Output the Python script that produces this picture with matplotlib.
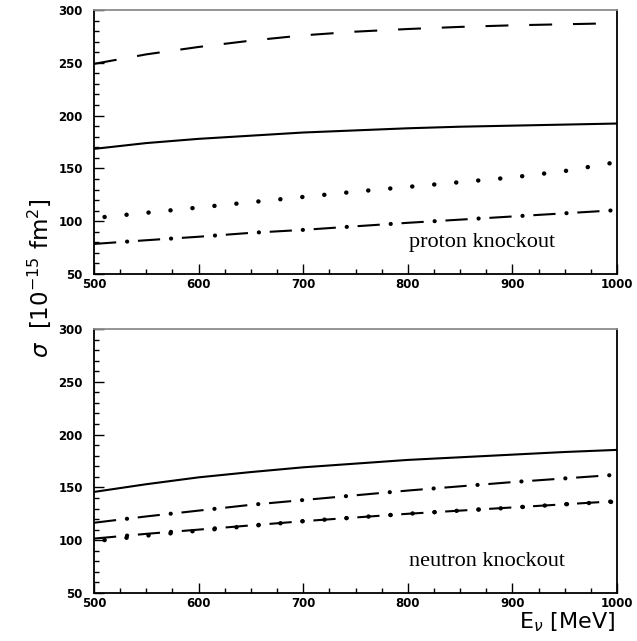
import matplotlib
matplotlib.use('Agg')
import matplotlib.pyplot as plt
from matplotlib.ticker import MultipleLocator

plt.rcParams['lines.scale_dashes'] = False

energy = [500, 550, 600, 650, 700, 750, 800, 850, 900, 950, 1000]

# proton knockout
p_dashed = [249, 258, 265, 271, 276, 279.5, 282, 284, 285.5, 286.5, 287.5]
p_solid = [168.5, 174, 178, 181, 184, 186, 188, 189.5, 190.5, 191.5, 192.5]
p_dotted = [103, 108, 113, 118, 123, 128, 132.5, 137, 141.5, 147.5, 156]
p_dashdot = [78.5, 82, 85.3, 89, 91.8, 95.2, 98.5, 101.5, 104.5, 107.5, 110.5]

# neutron knockout
n_solid = [145.7, 153, 159.5, 164.5, 169, 172.5, 176, 178.5, 181, 183.5, 185.5]
n_dashdot_hi = [116.5, 122.5, 128, 133.5, 138, 142.5, 147, 151, 155, 158.5, 162]
n_dashdot_lo = [101.5, 106, 110, 114, 118, 121.5, 125, 128, 131, 134, 137]
n_dotted = [99, 104.3, 109, 113.5, 118, 121.5, 125, 128, 130.8, 134, 136.5]

DASHED = (0, (16.5, 15))
DASH_PART = (0, (16, 15.7))        # long dashes of the dash-dot curves
DOT_PART = (7.85, (0.1, 31.6))      # the fat dots in their gaps
DOTTED = (8.3, (0.1, 15.8))

fig = plt.figure(figsize=(6.37, 6.41), dpi=100)
ax1 = fig.add_axes([0.1476, 0.5725, 0.821, 0.4119])
ax2 = fig.add_axes([0.1476, 0.0749, 0.821, 0.4119])


def dashdot(ax, y):
    ax.plot(energy, y, color='black', lw=1.5, linestyle=DASH_PART)
    ax.plot(energy, y, color='black', lw=3.0, linestyle=DOT_PART,
            dash_capstyle='round')


def dotted(ax, y):
    ax.plot(energy, y, color='black', lw=3.2, linestyle=DOTTED,
            dash_capstyle='round')


def style_axes(ax):
    ax.set_xlim(500, 1000)
    ax.set_ylim(50, 300)
    ax.xaxis.set_major_locator(MultipleLocator(100))
    ax.xaxis.set_minor_locator(MultipleLocator(25))
    ax.yaxis.set_major_locator(MultipleLocator(50))
    ax.yaxis.set_minor_locator(MultipleLocator(10))
    ax.tick_params(which='both', direction='in', top=False, right=False,
                   width=1.0, color='black')
    ax.tick_params(which='major', length=7, labelsize=8.5)
    ax.tick_params(axis='y', which='major', pad=8)
    ax.tick_params(axis='x', which='major', pad=3)
    ax.tick_params(which='minor', length=3.5)
    for lab in ax.get_xticklabels() + ax.get_yticklabels():
        lab.set_fontfamily('DejaVu Sans')
        lab.set_fontweight('bold')
    for side in ['left', 'bottom', 'right']:
        ax.spines[side].set_linewidth(1.3)
        ax.spines[side].set_color('black')
    ax.spines['top'].set_linewidth(1.3)
    ax.spines['top'].set_color('#8c8c8c')


ax1.plot(energy, p_dashed, color='black', lw=1.5, linestyle=DASHED)
ax1.plot(energy, p_solid, color='black', lw=1.5)
dotted(ax1, p_dotted)
dashdot(ax1, p_dashdot)
ax1.text(801, 80, 'proton knockout', fontsize=16, family='Liberation Serif',
         va='center', ha='left')
style_axes(ax1)

ax2.plot(energy, n_solid, color='black', lw=1.5)
dashdot(ax2, n_dashdot_hi)
dashdot(ax2, n_dashdot_lo)
dotted(ax2, n_dotted)
ax2.text(801, 79.5, 'neutron knockout', fontsize=16, family='Liberation Serif',
         va='center', ha='left')
style_axes(ax2)

fig.text(40 / 637, 1 - 278 / 641, r'$\sigma$  [10$^{-15}$ fm$^2$]',
         rotation=90, ha='center', va='center', fontsize=16.5,
         family='DejaVu Sans')
fig.text(615 / 637, 1 - 628 / 641, r'E$_\nu$ [MeV]', ha='right',
         va='baseline', fontsize=16, family='DejaVu Sans')

fig.savefig('out.png', dpi=100)
